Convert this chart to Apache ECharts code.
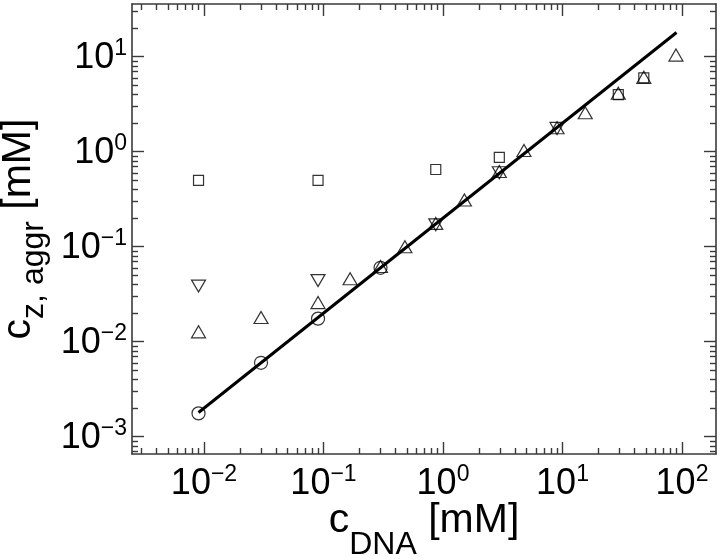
<!DOCTYPE html>
<html><head><meta charset="utf-8">
<script src="https://cdn.jsdelivr.net/npm/echarts@6/dist/echarts.min.js"></script>
<style>html,body{margin:0;padding:0;background:#fff}#c{width:720px;height:559px}</style>
</head><body><div id="c"></div>
<script>
// ---- data (mM) ----
const circleX = [0.009, 0.03, 0.09, 0.3];
const circleY = [0.00176, 0.006, 0.0175, 0.06];
const triUpX = [0.009, 0.03, 0.09, 0.167, 0.3, 0.48, 0.87, 1.51, 2.96, 4.76, 9.0, 15.5, 29.3, 47.9, 89];
const triUpY = [0.0127, 0.018, 0.0258, 0.046, 0.062, 0.10, 0.176, 0.31, 0.62, 1.03, 1.79, 2.57, 4.12, 6.07, 10.4];
const triDownX = [0.009, 0.09, 0.87, 2.96, 9.0];
const triDownY = [0.0385, 0.044, 0.17, 0.60, 1.76];
const squareX = [0.009, 0.09, 0.87, 2.96, 29.3, 47.9];
const squareY = [0.50, 0.50, 0.65, 0.87, 4.0, 6.0];
const fitX = [0.009, 90];
const fitY = [0.0018, 18];
// tick labels (decade exponents)
const xTickExponents = [-2, -1, 0, 1, 2];
const yTickExponents = [-3, -2, -1, 0, 1];
// axis titles: [text, role]
const xTitleParts = [['c', 'main'], ['DNA', 'sub'], [' [mM]', 'main']];
const yTitleParts = [['c', 'main'], ['z, aggr', 'sub'], [' [mM]', 'main']];

const FONT = "'Liberation Sans', Arial, Helvetica, sans-serif";
const X_MIN = -2.6025, X_MAX = 2.2845, Y_MIN = -3.182, Y_MAX = 1.555;
const LINE = '#3a3a3a';
const GRID = { left: 132, right: 4, top: 4, bottom: 105 };
const W = 720, H = 559;

function minorTicks(lo, hi) {
  const out = [];
  for (let n = Math.floor(lo) - 1; n <= Math.ceil(hi); n++)
    for (let k = 2; k <= 9; k++) {
      const v = n + Math.log10(k);
      if (v > lo && v < hi) out.push(v);
    }
  return out;
}
const toPairs = (xs, ys) => xs.map((x, i) => [Math.log10(x), Math.log10(ys[i])]);

const labelFmt = v => {
  const e = Math.round(v);
  return '{b|10}{s|' + (e < 0 ? '\u2212' + (-e) : String(e)) + '}';
};
const rich = {
  b: { fontFamily: FONT, fontSize: 36, lineHeight: 39, color: '#000', verticalAlign: 'bottom' },
  s: { fontFamily: FONT, fontSize: 23, lineHeight: 23, color: '#000', verticalAlign: 'top' }
};

function axis(dim, position, major, withLabels, showLine) {
  const isX = dim === 'x';
  const a = {
    type: 'value', position,
    min: isX ? X_MIN : Y_MIN, max: isX ? X_MAX : Y_MAX,
    splitLine: { show: false },
    axisLine: { show: showLine, onZero: false, lineStyle: { color: LINE, width: 1.6 } },
    axisTick: {
      show: true, inside: true, length: major ? 12 : 6,
      lineStyle: { color: LINE, width: 1.4 },
      customValues: major ? (isX ? xTickExponents : yTickExponents) : minorTicks(isX ? X_MIN : Y_MIN, isX ? X_MAX : Y_MAX)
    },
    axisLabel: { show: false },
    axisPointer: { show: false }
  };
  if (withLabels) {
    a.axisLabel = {
      show: true, customValues: isX ? xTickExponents : yTickExponents,
      formatter: labelFmt, rich, margin: isX ? 9 : 5
    };
  }
  return a;
}

// ---- axis titles as real text pieces (main + subscript) ----
const MAIN_FS = 41, SUB_FS = 32;
const ctx = document.createElement('canvas').getContext('2d');
function measure(t, fs) { ctx.font = fs + 'px ' + FONT; return ctx.measureText(t).width; }
function titleChildren(parts, subDrop) {
  const sizes = parts.map(p => p[1] === 'sub' ? SUB_FS : MAIN_FS);
  const widths = parts.map((p, i) => measure(p[0], sizes[i]));
  const total = widths.reduce((a, b) => a + b, 0);
  let x = -total / 2;
  return parts.map((p, i) => {
    const fs = sizes[i];
    const el = {
      type: 'text', x, y: (p[1] === 'sub' ? subDrop : 0) - 0.3465 * fs, silent: true,
      style: { text: p[0], font: fs + 'px ' + FONT, fill: '#000', align: 'left', verticalAlign: 'middle' }
    };
    x += widths[i];
    return el;
  });
}
const plotCx = GRID.left + (W - GRID.left - GRID.right) / 2;
const plotCy = GRID.top + (H - GRID.top - GRID.bottom) / 2;

const chart = echarts.init(document.getElementById('c'), null, { renderer: 'canvas' });
const marker = { color: 'rgba(0,0,0,0)', borderColor: '#000', borderWidth: 1.2 };
chart.setOption({
  animation: false,
  backgroundColor: '#fff',
  grid: Object.assign({ outerBoundsMode: 'none' }, GRID),
  xAxis: [
    axis('x', 'bottom', true, true, true),
    axis('x', 'bottom', false, false, false),
    axis('x', 'top', true, false, true),
    axis('x', 'top', false, false, false)
  ],
  yAxis: [
    axis('y', 'left', true, true, true),
    axis('y', 'left', false, false, false),
    axis('y', 'right', true, false, true),
    axis('y', 'right', false, false, false)
  ],
  graphic: [
    { type: 'group', x: plotCx, y: 535, children: titleChildren(xTitleParts, 21) },
    { type: 'group', x: 33, y: plotCy, rotation: Math.PI / 2, children: titleChildren(yTitleParts, 12) }
  ],
  series: [
    { type: 'line', data: toPairs(fitX, fitY), showSymbol: false, symbol: 'none', silent: true,
      lineStyle: { color: '#000', width: 3 }, z: 3 },
    { type: 'scatter', data: toPairs(circleX, circleY), symbol: 'circle', symbolSize: 13, itemStyle: marker, silent: true, z: 4 },
    { type: 'scatter', data: toPairs(triUpX, triUpY), symbol: 'triangle', symbolSize: [14, 12], itemStyle: marker, silent: true, z: 4 },
    { type: 'scatter', data: toPairs(triDownX, triDownY), symbol: 'triangle', symbolRotate: 180, symbolSize: [14, 12], itemStyle: marker, silent: true, z: 4 },
    { type: 'scatter', data: toPairs(squareX, squareY), symbol: 'rect', symbolSize: 10, itemStyle: marker, silent: true, z: 4 }
  ]
});
</script></body></html>
